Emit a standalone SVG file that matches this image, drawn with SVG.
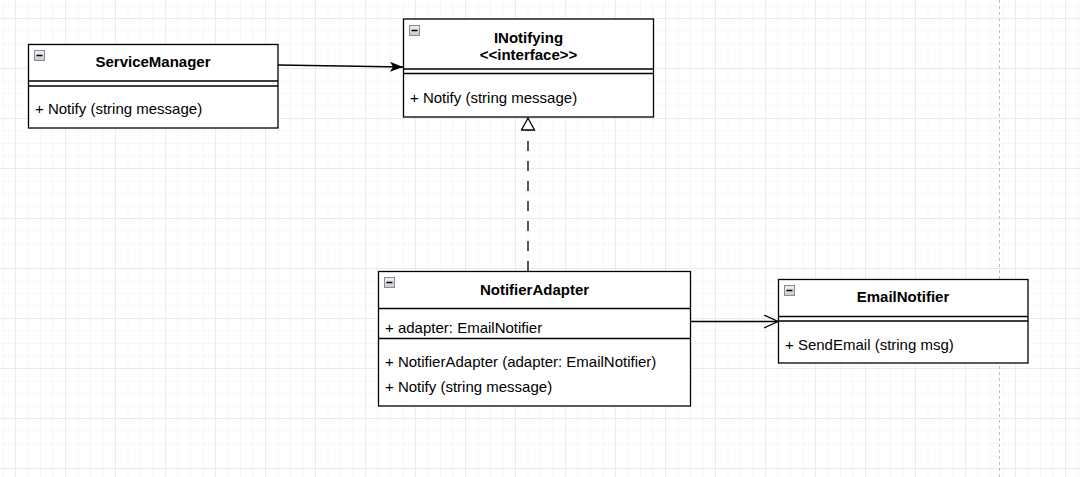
<svg xmlns="http://www.w3.org/2000/svg" width="1080" height="477" viewBox="0 0 1080 477">
<defs>
<pattern id="minor" x="15" y="18" width="12.5" height="12.5" patternUnits="userSpaceOnUse">
<path d="M0 0V12.5M0 0H12.5" stroke="#f0f0f0" stroke-width="1" fill="none"/>
</pattern>
<pattern id="major" x="15" y="18" width="50" height="50" patternUnits="userSpaceOnUse">
<path d="M0 0V50M0 0H50" stroke="#e0e0e0" stroke-width="1" fill="none"/>
</pattern>
<linearGradient id="icon" x1="0" y1="0" x2="0" y2="1">
<stop offset="0" stop-color="#f2f2f2"/>
<stop offset="1" stop-color="#c8c8c8"/>
</linearGradient>
<marker id="block" markerWidth="14" markerHeight="10" refX="13" refY="5" orient="auto" markerUnits="userSpaceOnUse">
<path d="M0 0L13 5L0 10L3 5Z" fill="#000"/>
</marker>
<marker id="tri" markerWidth="16" markerHeight="16" refX="13" refY="7" orient="auto" markerUnits="userSpaceOnUse">
<path d="M1 0.5L13 7L1 13.5Z" fill="#fff" stroke="#000" stroke-width="1.3"/>
</marker>
<marker id="open" markerWidth="16" markerHeight="16" refX="14" refY="7" orient="auto" markerUnits="userSpaceOnUse">
<path d="M0 0.5L14 7L0 13.5" fill="none" stroke="#000" stroke-width="1.3"/>
</marker>
</defs>
<style>
.box{fill:#fff;stroke:#000;stroke-width:1.3}
.ln{stroke:#000;stroke-width:1.3;fill:none}
.t{font-family:"Liberation Sans",Arial,sans-serif;font-size:15px;fill:#000}
.b{font-weight:bold;text-anchor:middle}
.ic{fill:url(#icon);stroke:#8a8a9a;stroke-width:1}
.icm{stroke:#000;stroke-width:1.5}
</style>
<rect width="1080" height="477" fill="#fff"/>
<rect width="1080" height="477" fill="url(#minor)"/>
<rect width="1080" height="477" fill="url(#major)"/>
<line x1="999.5" y1="0" x2="999.5" y2="477" stroke="#c0c0c0" stroke-width="1" stroke-dasharray="3 3"/>

<g id="connectors">
<line x1="278" y1="65" x2="403" y2="67" class="ln" marker-end="url(#block)"/>
<line x1="528" y1="271" x2="528" y2="131" class="ln" stroke-dasharray="10 10"/>
<line x1="528" y1="131" x2="528" y2="118" class="ln" stroke="none" marker-end="url(#tri)"/>
<line x1="691" y1="321.5" x2="778" y2="321.5" class="ln" marker-end="url(#open)"/>
</g>

<g id="ServiceManager">
<rect x="28.5" y="44.5" width="249.5" height="83.5" class="box"/>
<line x1="28.5" y1="81" x2="278" y2="81" class="ln"/>
<line x1="28.5" y1="86" x2="278" y2="86" class="ln"/>
<rect x="34.5" y="50.5" width="10" height="10" class="ic"/>
<line x1="36.5" y1="55.5" x2="42.5" y2="55.5" class="icm"/>
<text x="153" y="67" class="t b">ServiceManager</text>
<text x="35" y="114" class="t">+ Notify (string message)</text>
</g>

<g id="INotifying">
<rect x="403.5" y="19" width="250" height="98" class="box"/>
<line x1="403.5" y1="69" x2="653.5" y2="69" class="ln"/>
<line x1="403.5" y1="73.5" x2="653.5" y2="73.5" class="ln"/>
<rect x="409.5" y="25.5" width="10" height="10" class="ic"/>
<line x1="411.5" y1="30.5" x2="417.5" y2="30.5" class="icm"/>
<text x="528.5" y="43" class="t b">INotifying</text>
<text x="528.5" y="59.5" class="t b">&lt;&lt;interface&gt;&gt;</text>
<text x="410" y="103" class="t">+ Notify (string message)</text>
</g>

<g id="NotifierAdapter">
<rect x="378.5" y="271.5" width="312" height="134.5" class="box"/>
<line x1="378.5" y1="308.5" x2="690.5" y2="308.5" class="ln"/>
<line x1="378.5" y1="338.5" x2="690.5" y2="338.5" class="ln"/>
<rect x="384.5" y="277.5" width="10" height="10" class="ic"/>
<line x1="386.5" y1="282.5" x2="392.5" y2="282.5" class="icm"/>
<text x="534.5" y="295" class="t b">NotifierAdapter</text>
<text x="385" y="333" class="t">+ adapter: EmailNotifier</text>
<text x="385" y="367" class="t">+ NotifierAdapter (adapter: EmailNotifier)</text>
<text x="385" y="392" class="t">+ Notify (string message)</text>
</g>

<g id="EmailNotifier">
<rect x="778.5" y="279.5" width="249.5" height="83.5" class="box"/>
<line x1="778.5" y1="316.5" x2="1028" y2="316.5" class="ln"/>
<line x1="778.5" y1="321" x2="1028" y2="321" class="ln"/>
<rect x="784.5" y="285.5" width="10" height="10" class="ic"/>
<line x1="786.5" y1="290.5" x2="792.5" y2="290.5" class="icm"/>
<text x="903" y="302" class="t b">EmailNotifier</text>
<text x="785" y="350" class="t">+ SendEmail (string msg)</text>
</g>
</svg>
